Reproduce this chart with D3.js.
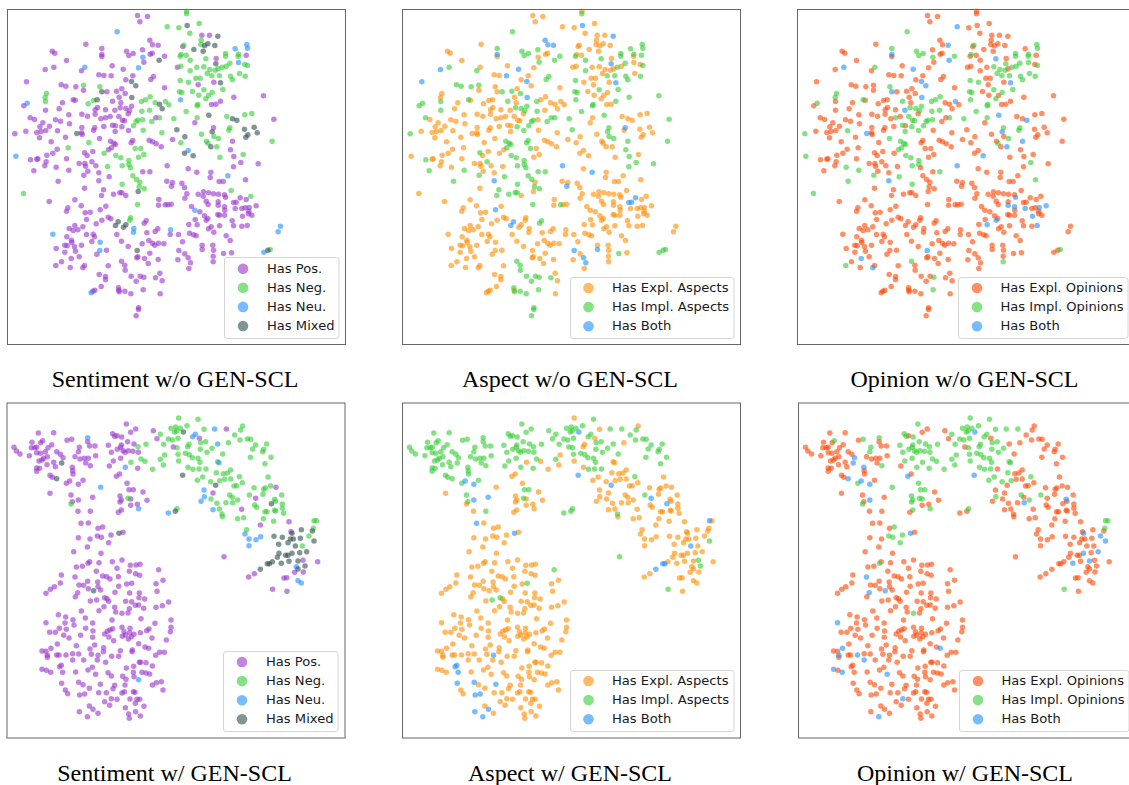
<!DOCTYPE html>
<html><head><meta charset="utf-8">
<script src="https://cdn.jsdelivr.net/npm/d3@7/dist/d3.min.js"></script>
<style>html,body{margin:0;padding:0;background:#fff;overflow:hidden}svg{display:block}</style>
</head><body><svg id="c" width="1129" height="785"></svg>
<script>
// Each point: [x, y, tag]; the tag gives aspect class then opinion class (e expl., i impl., b both); no tag = "ee".
const topPos=[[399,33],[429,36],[406,52],[592,92],[615,92],[436,107,"be"],[444,121,"be"],[461,122,"bb"],[535,126],[244,119],[143,140],[151,146],[292,132,"ii"],[292,150,"bb"],[292,156],[366,140,"ii"],[386,147,"ii"],[373,153,"ii"],[414,136,"ie"],[437,149],[443,146],[480,155,"ii"],[418,173,"ie"],[186,168],[122,195,"be"],[148,188,"ib"],[231,199,"ie"],[323,184],[356,194,"bb"],[283,211],[298,213],[320,214,"be"],[385,214],[439,225,"ie"],[447,216,"ie"],[66,232,"be"],[170,241,"ie"],[184,245,"ie"],[214,247,"ie"],[237,257],[352,253],[336,260,"ie"],[307,262,"ie"],[362,267,"ie"],[480,250],[364,226],[519,188],[725,152,"ie"],[635,162],[581,241],[628,233],[688,278,"ie"],[777,274,"ie"],[621,300],[634,299],[648,290,"ie"],[808,344,"ie"],[58,304,"ie"],[123,317,"ie"],[206,286,"ii"],[212,287],[174,295],[164,313],[324,290,"ii"],[344,278],[349,295],[381,305,"ii"],[364,312,"ii"],[347,310,"ii"],[375,319,"ii"],[303,316],[331,317,"eb"],[272,316],[279,309],[232,329],[193,331],[249,335],[272,329],[289,343],[303,340,"ei"],[317,336],[343,336,"ei"],[354,347,"ei"],[360,349,"ei"],[371,328],[153,346],[168,350],[195,358],[77,340,"ie"],[90,345],[115,355],[106,367],[135,365],[159,379,"ei"],[124,378],[110,381],[97,384],[64,380],[31,388,"ii"],[105,400],[140,412],[183,398],[232,369],[231,385],[267,377],[271,370],[298,366],[324,362,"ei"],[333,364],[352,367,"ii"],[332,381,"ei"],[285,402,"ei"],[233,390],[372,378,"ii"],[318,410,"ii"],[328,416,"ii"],[333,420,"ii"],[321,430,"ii"],[312,436,"ei"],[380,415,"ie"],[385,408,"ie"],[434,407],[444,412],[455,418],[470,427],[504,405],[454,340,"ie"],[571,355],[627,370,"ii"],[684,410,"ib"],[678,436,"ie"],[688,456,"ie"],[687,487,"ie"],[709,474,"ii"],[761,478,"ie"],[158,434],[145,446],[127,452],[186,463],[240,445,"ie"],[265,441],[78,466,"ie"],[97,464],[100,463],[125,472],[121,484],[88,499,"ie"],[155,488,"ei"],[193,497,"ii"],[248,453],[262,472,"ie"],[224,477],[241,477],[243,485],[250,500],[238,512,"ii"],[274,484],[283,505],[161,530,"ii"],[314,517,"ii"],[283,529,"bb"],[240,551],[297,556,"ie"],[291,573,"ie"],[327,569,"ie"],[346,565,"ie"],[352,565,"ie"],[364,573],[134,591],[211,586],[415,502,"ie"],[436,502,"ii"],[488,484,"bb"],[551,493],[577,503,"be"],[619,503],[617,519],[644,531],[656,531],[723,526,"ei"],[487,530],[504,534],[501,545,"be"],[532,536],[540,549],[547,568],[541,581],[581,569],[597,562],[612,565],[627,568],[642,569],[660,571],[663,578,"eb"],[596,575],[605,590],[611,600],[641,592],[641,602,"eb"],[660,607,"eb"],[661,617],[692,612,"eb"],[687,594,"be"],[695,593,"be"],[707,580,"be"],[725,585],[755,604,"eb"],[734,609,"eb"],[722,610],[712,612],[714,635,"eb"],[732,628],[742,632],[733,620],[600,634],[610,642],[640,630],[645,632],[660,632],[586,622],[561,606],[463,585],[462,602],[482,601,"ie"],[490,601],[500,599],[230,604],[190,610],[186,620],[304,605],[287,616,"be"],[242,625],[257,623],[246,645],[311,638],[319,643],[292,647],[275,658],[211,663],[194,672],[206,678],[220,676],[235,667],[246,690],[266,689],[270,697],[262,711],[187,697],[201,707],[202,714],[181,722],[188,724],[155,732],[181,743],[210,727],[213,740],[231,722],[224,757],[200,762,"eb"],[171,772],[154,783,"ei"],[197,789],[240,783],[235,790,"eb"],[277,749],[306,737],[351,710],[371,726],[413,718],[433,708],[444,716],[451,722],[462,716],[478,718],[436,746],[400,757],[397,760],[420,762],[431,777],[461,765],[351,770,"ii"],[361,782,"ie"],[362,797,"ie"],[311,784],[284,810],[303,816],[303,826],[380,815,"ie"],[395,830,"ie"],[407,815,"ie"],[418,818,"ii"],[453,820,"ie"],[466,806],[473,829],[290,846],[271,857],[265,860],[342,850,"ie"],[343,857],[344,862,"ie"],[361,860,"ie"],[379,868,"ie"],[416,856,"ii"],[467,868],[402,910,"ie"],[402,915,"ie"],[395,934,"ie"],[425,649,"ie"],[419,656,"ie"],[427,685],[452,681],[460,673],[337,690],[497,690],[522,690],[534,712],[555,686],[567,691],[575,694],[553,660],[572,645],[578,661,"eb"],[605,647,"eb"],[612,673],[620,667],[645,664],[628,683],[665,694],[677,708],[683,649],[687,664],[712,665],[728,663,"eb"],[593,722],[593,735,"be"],[625,722],[627,737],[657,747,"ie"],[681,745],[626,755],[626,772,"ei"],[523,738,"be"],[541,748],[551,760,"be"],[558,775,"be"],[520,766],[553,792]];
const topNeg=[[546,20],[546,28,"ie"],[488,67,"eb"],[523,70],[584,57],[556,86],[590,107],[538,122,"ei"],[589,120],[530,150,"ei"],[527,155,"ie"],[545,152],[557,167,"ie"],[604,163,"ib"],[663,147,"ii"],[663,155,"ii"],[702,149,"ii"],[701,155,"ei"],[721,180],[729,183,"ii"],[676,176,"ii"],[665,185,"ei"],[653,188,"ii"],[641,193],[632,197,"ei"],[529,185],[577,188],[598,187,"ei"],[616,195,"ei"],[557,199,"ie"],[608,207,"ei"],[622,214,"ii"],[645,214,"ii"],[678,215,"ii"],[684,226,"ii"],[705,207,"ei"],[722,215,"ii"],[527,228,"ii"],[552,233,"ei"],[574,221],[587,221],[237,242,"ie"],[286,247,"ei"],[525,262,"ii"],[532,264,"ii"],[564,261],[598,256,"ii"],[623,264,"ei"],[612,273],[655,255,"ii"],[583,272],[604,283,"ei"],[126,267,"ei"],[122,279,"ei"],[123,291,"ie"],[251,298],[267,288],[411,291,"ii"],[423,286,"ei"],[437,277,"ei"],[452,295],[483,291,"eb"],[493,301],[580,300,"ii"],[578,304,"ii"],[545,321,"ii"],[412,320,"ii"],[435,317,"ei"],[721,331],[742,327],[667,336],[578,340,"ei"],[508,343,"ii"],[465,340,"ii"],[442,351,"ie"],[414,346,"ei"],[400,347,"ii"],[395,351,"ii"],[387,364,"ii"],[472,385],[416,377],[676,370,"bi"],[673,377,"ei"],[591,389],[628,396,"ie"],[642,402,"ii"],[606,410],[610,416,"ei"],[637,427,"eb"],[803,410,"ie"],[253,414],[191,430],[299,446],[334,453,"ii"],[349,460,"ii"],[373,468,"ii"],[373,480,"ii"],[378,490,"ie"],[353,484,"ii"],[309,486],[392,432,"ie"],[409,432],[402,458],[418,450],[529,415],[716,450],[646,458],[385,514,"ie"],[396,525,"ie"],[406,533],[419,553,"ie"],[404,547,"ie"],[353,539,"ii"],[57,567,"ei"],[680,558],[739,575],[399,600,"ie"],[378,640],[376,647],[797,735,"ii"]];
const topNeu=[[338,82,"ii"],[727,120,"ii"],[729,131,"ii"],[692,133,"ie"],[702,174,"ei"],[415,158,"ei"],[402,190],[241,188,"ei"],[68,296,"ii"],[528,286,"ii"],[551,438],[34,455,"ei"],[670,514],[571,617],[828,665],[821,682],[145,689],[498,676],[388,672],[387,683],[287,713],[286,738],[778,743,"ie"],[260,865]];
const topMixed=[[548,63,"be"],[640,95,"be"],[610,118],[600,124],[631,123],[568,135],[596,140],[464,167,"ib"],[634,178,"bi"],[648,235,"bb"],[381,231,"bb"],[394,244,"eb"],[292,262,"eb"],[382,279,"bb"],[278,286],[465,299],[473,313],[613,332,"ib"],[684,343],[697,347,"eb"],[749,368],[720,374],[758,385],[730,391],[724,398],[217,387,"eb"],[517,376,"ie"],[623,382,"ib"],[541,397],[619,427],[540,446],[566,454,"eb"],[401,561],[341,652,"be"],[333,663,"be"],[364,661],[357,668],[398,738,"eb"],[790,737,"ie"]];
const botPos=[[147,98,"ie"],[101,99,"ie"],[28,142,"ie"],[35,153,"ie"],[46,162,"ie"],[74,167,"ie"],[80,143,"ie"],[90,143,"ie"],[96,142,"ie"],[82,127,"ie"],[108,128,"ie"],[114,122,"ii"],[141,134,"ie"],[130,143,"ie"],[122,155,"ie"],[96,158,"ie"],[107,160,"ie"],[128,170,"ie"],[117,175,"ie"],[103,183,"ie"],[112,180,"ie"],[147,187,"ie"],[127,194,"ie"],[152,200,"ie"],[96,204,"ie"],[105,205,"ie"],[96,214,"ie"],[156,155,"ie"],[167,163,"ie"],[175,173,"ib"],[187,121,"ie"],[201,118,"ii"],[224,142,"ii"],[221,155,"ii"],[211,170,"ie"],[226,177,"ie"],[239,175,"ie"],[251,175,"ie"],[243,189,"ie"],[257,197,"ii"],[203,202,"ib"],[204,212,"ie"],[205,222,"ie"],[249,125,"ie"],[255,138,"ie"],[271,138,"ie"],[273,167,"ie"],[136,226,"ie"],[143,232,"ie"],[195,243,"bb"],[185,250,"ii"],[235,241,"ie"],[221,253,"bb"],[136,280],[199,285,"ie"],[221,300,"bb"],[203,305,"ie"],[264,292,"be"],[220,334],[257,334,"ie"],[229,370,"be"],[251,369],[280,385],[294,381,"ei"],[278,408,"ei"],[290,412,"ei"],[319,405,"ei"],[355,397],[221,413],[256,417],[312,428,"ei"],[248,441],[207,455],[289,460],[365,72,"ii"],[393,87,"ie"],[378,97,"ie"],[324,101,"ii"],[337,107,"ie"],[351,111,"ii"],[330,109,"ii"],[311,136,"ii"],[369,125,"ii"],[350,135,"ii"],[348,142,"ii"],[338,148,"ii"],[355,152,"ii"],[371,152,"ii"],[388,132,"ii"],[385,154,"ii"],[401,157,"ii"],[361,157,"ii"],[320,157,"ii"],[348,175,"ii"],[326,183,"ii"],[314,198,"ie"],[399,205,"ii"],[335,229,"eb"],[345,222],[367,250,"ei"],[373,269,"ii"],[386,269,"ii"],[415,276],[346,288,"ei"],[350,300,"ei"],[346,306,"ei"],[378,297,"ei"],[378,316],[398,313],[427,301],[350,330,"ei"],[341,337],[446,92,"ie"],[457,116,"ie"],[506,141,"ie"],[584,115,"ee"],[665,87,"ii"],[753,295,"be"],[814,262],[625,279],[711,328],[767,375],[853,365],[859,395],[658,470,"ie"],[732,531],[749,521],[939,485],[895,481,"ie"],[896,516],[870,517],[838,534],[846,533],[804,568,"ii"],[847,574],[255,485],[250,490,"ei"],[233,499],[215,501],[283,488],[323,485],[352,480],[337,505],[377,496],[394,495],[406,493],[462,509,"ie"],[275,514],[374,514],[393,521],[405,526],[170,525],[211,531,"eb"],[294,528],[306,530],[316,537],[341,530],[249,544],[279,546],[167,549],[149,560],[137,568],[124,580],[223,555],[237,556],[251,566],[280,560],[288,570],[381,550,"ie"],[366,552],[342,559],[331,577],[475,541],[454,551],[457,574],[219,578,"eb"],[212,590],[375,579],[404,579],[403,593],[300,593,"ie"],[307,596],[276,600,"ie"],[257,603],[312,604],[363,604],[381,605],[420,597],[392,616],[402,615],[417,625],[492,606],[473,617],[454,622],[298,620],[283,632],[230,633],[330,622],[333,636],[374,626],[352,640,"ei"],[370,639],[161,644],[183,651],[124,668,"eb"],[205,659],[208,675],[242,654],[264,669],[322,660],[409,656],[451,670],[499,660],[181,669],[243,685],[135,697],[152,697],[164,685],[185,688],[265,693],[324,686],[316,690],[308,694],[300,702],[352,682],[376,685],[358,695],[375,698],[388,703],[407,698],[433,687],[426,692],[499,682],[497,695],[177,706],[193,714],[228,706],[264,712],[313,711],[327,722],[353,709],[362,705],[371,717],[380,710],[442,714],[485,720],[402,731],[158,732],[139,745,"eb"],[215,737],[270,735],[256,747],[297,743],[296,755],[112,753],[124,754],[128,766,"eb"],[128,772],[156,765],[163,765],[184,765,"eb"],[204,761],[222,762],[260,763],[280,766,"be"],[347,752],[383,750],[382,755],[421,741],[432,745,"eb"],[465,757],[479,757],[453,766],[321,769],[342,769],[204,780,"eb"],[237,780],[278,780],[303,787],[404,787],[408,787],[424,788],[443,798],[387,799],[365,804],[170,796,"be"],[165,800,"be"],[112,808,"eb"],[125,811],[138,817,"eb"],[174,817,"be"],[213,816],[263,802],[250,810],[273,823,"eb"],[310,818],[320,828],[386,817],[388,830],[412,817],[424,819],[435,822],[354,829],[364,838],[171,850,"be"],[222,847,"be"],[235,854],[287,853,"be"],[254,865],[330,856],[325,866],[305,878],[282,878],[361,855],[359,875],[352,879],[443,855],[455,848],[470,845],[475,870],[182,870],[189,881],[225,885,"be"],[240,882,"be"],[386,875],[391,877],[376,897],[397,898],[405,898],[392,910],[300,905],[320,896,"eb"],[337,898],[315,916],[362,923],[254,918],[265,928,"be"],[224,935,"be"],[280,940],[248,950,"bb"],[372,942],[374,955],[393,935],[407,948],[418,919]];
const botNeg=[[522,54,"ei"],[580,58,"ii"],[547,77,"ii"],[513,81,"ii"],[499,85,"ii"],[527,85,"ii"],[510,96,"ii"],[516,92,"ii"],[598,88,"ei"],[714,78,"ee"],[708,90,"ie"],[467,103,"ii"],[690,105,"ie"],[728,117,"ie"],[738,118,"ie"],[706,120,"ie"],[671,128,"ee"],[753,135,"ie"],[786,132,"ie"],[777,148,"ie"],[744,147,"ie"],[774,155,"ie"],[799,172,"ie"],[737,172,"ie"],[781,191,"ie"],[424,133,"ii"],[400,140,"ii"],[409,177,"ii"],[421,184,"ei"],[379,187,"ei"],[444,208,"ei"],[476,195,"ei"],[467,178,"ii"],[480,165,"ei"],[491,117,"ii"],[477,133,"ii"],[503,120,"ii"],[520,115,"ii"],[553,133,"ei"],[549,140,"ei"],[517,143,"ii"],[588,128,"ii"],[603,125,"ii"],[622,145,"ii"],[607,157,"ii"],[587,148,"ii"],[654,162,"ie"],[639,185,"ei"],[520,163,"ii"],[542,160,"ii"],[554,164,"ii"],[522,183,"ei"],[563,173,"ii"],[580,175,"ii"],[586,187,"ii"],[550,202,"ei"],[565,208,"ii"],[583,207,"ii"],[604,207,"ie"],[635,218,"ei"],[656,221,"ee"],[668,219,"ee"],[678,210,"ee"],[578,241,"ei"],[594,231,"ei"],[618,245,"ei"],[645,242,"ei"],[660,238,"ee"],[678,237,"ee"],[704,230,"ii"],[790,231],[713,248],[696,257],[688,258],[748,263],[782,264],[798,258],[777,268],[831,285],[775,283],[734,285,"ii"],[675,285,"ei"],[683,292],[699,300,"ei"],[684,308,"eb"],[664,308],[637,310],[619,297],[644,327],[652,342,"ie"],[653,350],[699,356],[717,353],[750,315],[756,322],[781,335],[787,335],[810,331],[813,333],[833,312],[833,325],[837,340],[812,304],[810,298,"eb"],[776,356],[807,364],[726,389],[928,362,"bi"],[935,362,"ei"],[926,385,"ei"],[913,408,"eb"],[893,438],[370,295,"ii"],[199,312,"ei"],[517,326,"ii"]];
const botNeu=[[249,113,"ii"],[630,87,"ii"],[572,103,"ii"],[564,110,"ii"],[639,132,"ie"],[643,188,"ei"],[362,202,"ii"],[288,262,"ei"],[598,270],[599,290,"ei"],[589,304],[402,326,"ei"],[625,329],[491,339,"ie"],[721,402],[733,417],[733,437],[754,419],[768,410],[875,500],[880,542],[890,549],[402,839]];
const botMixed=[[536,96,"bb"],[171,189,"ib"],[156,236,"ib"],[534,226,"bb"],[633,256,"be"],[512,334,"ie"],[343,400,"bb"],[267,572,"eb"],[800,311,"be"],[890,389],[923,393],[808,409],[833,412],[862,400,"eb"],[857,417],[866,417],[850,428],[872,438,"be"],[822,433],[887,415],[928,423,"ib"],[823,460],[843,466],[850,466],[862,460,"eb"],[885,458],[906,455,"eb"],[818,472],[803,485],[788,491,"be"],[794,491,"be"],[830,490,"eb"],[853,484],[880,483,"eb"],[901,498,"ie"],[880,507],[767,508,"be"]];

const sentimentKeys=["Has Pos.","Has Neg.","Has Neu.","Has Mixed"];
const aspectKeys=["Has Expl. Aspects","Has Impl. Aspects","Has Both"];
const opinionKeys=["Has Expl. Opinions","Has Impl. Opinions","Has Both"];
const titles=["Sentiment w/o GEN-SCL","Aspect w/o GEN-SCL","Opinion w/o GEN-SCL","Sentiment w/ GEN-SCL","Aspect w/ GEN-SCL","Opinion w/ GEN-SCL"];

const svg=d3.select("#c");
const sentColors=["#9932cc","#32cd32","#1e90ff","#2f4f4f"];
const triColors=c=>[c,"#32cd32","#1e90ff"];
const classIdx={e:0,i:1,b:2};
const topGroups=[topPos,topNeg,topNeu,topMixed], botGroups=[botPos,botNeg,botNeu,botMixed];

function tagLayers(gs,pos){
  const all=gs.flat(), out=[[],[],[]];
  all.forEach(d=>out[classIdx[(d[2]||"ee")[pos]]].push(d));
  return out;
}
function panel(p){
  const W=338,H=335;
  const x=d3.scaleLinear().domain([p.dx,p.dx+W*3]).range([p.l,p.l+W]);
  const y=d3.scaleLinear().domain([p.dy,p.dy+H*3]).range([p.t,p.t+H]);
  const g=svg.append("g");
  p.layers.forEach((pts,i)=>{
    g.append("g").selectAll("circle").data(pts).join("circle")
      .attr("cx",d=>x(d[0])).attr("cy",d=>y(d[1])).attr("r",2.75)
      .attr("fill",p.colors[i]).attr("fill-opacity",.6);
  });
  g.append("rect").attr("x",p.l).attr("y",p.t).attr("width",W).attr("height",H)
    .attr("fill","none").attr("stroke","#666").attr("stroke-width",1);
  const L=p.legend;
  g.append("rect").attr("x",L.x).attr("y",L.y).attr("width",L.w).attr("height",L.h).attr("rx",2.5)
    .attr("fill","#fff").attr("fill-opacity",.8).attr("stroke","#d6d6d6").attr("stroke-width",1);
  p.keys.forEach((k,i)=>{
    const cy=L.y1+i*19.1;
    g.append("circle").attr("cx",L.mx).attr("cy",cy).attr("r",5.3).attr("fill",p.colors[i]).attr("fill-opacity",.6);
    g.append("text").attr("x",L.tx).attr("y",cy+4.1).text(k)
      .attr("font-family","DejaVu Sans").attr("font-size",13.1).attr("fill","#1a1a1a");
  });
  svg.append("text").attr("x",p.cx).attr("y",p.ty).attr("text-anchor","middle").text(p.title)
    .attr("font-family","Liberation Serif").attr("font-size",24).attr("fill","#000");
}
panel({dx:9,dy:15,l:7.5,t:9.5,layers:topGroups,colors:sentColors,keys:sentimentKeys,title:titles[0],cx:175,ty:387,
  legend:{x:224.5,y:257.5,w:114.5,h:81,y1:268.7,mx:243,tx:267}});
panel({dx:8,dy:15,l:402.5,t:9.5,layers:tagLayers(topGroups,0),colors:triColors("#ff8c00"),keys:aspectKeys,title:titles[1],cx:570,ty:387,
  legend:{x:570.5,y:277.5,w:163.5,h:61,y1:288,mx:588.5,tx:612}});
panel({dx:9,dy:15,l:797.5,t:9.5,layers:tagLayers(topGroups,1),colors:triColors("#ff4500"),keys:opinionKeys,title:titles[2],cx:964.5,ty:387,
  legend:{x:958.5,y:277.5,w:169.5,h:61,y1:288,mx:977,tx:1000.5}});
panel({dx:7,dy:9,l:7,t:403,layers:botGroups,colors:sentColors,keys:sentimentKeys,title:titles[3],cx:174.5,ty:781,
  legend:{x:223.5,y:651.5,w:114.5,h:80,y1:662,mx:242,tx:266}});
panel({dx:7,dy:9,l:402.5,t:403,layers:tagLayers(botGroups,0),colors:triColors("#ff8c00"),keys:aspectKeys,title:titles[4],cx:570,ty:781,
  legend:{x:570.5,y:670.5,w:163.5,h:61,y1:681,mx:588.5,tx:612}});
panel({dx:7,dy:9,l:798.5,t:403,layers:tagLayers(botGroups,1),colors:triColors("#ff4500"),keys:opinionKeys,title:titles[5],cx:965,ty:781,
  legend:{x:959.5,y:670.5,w:169.5,h:61,y1:681,mx:978,tx:1001.5}});
</script></body></html>
